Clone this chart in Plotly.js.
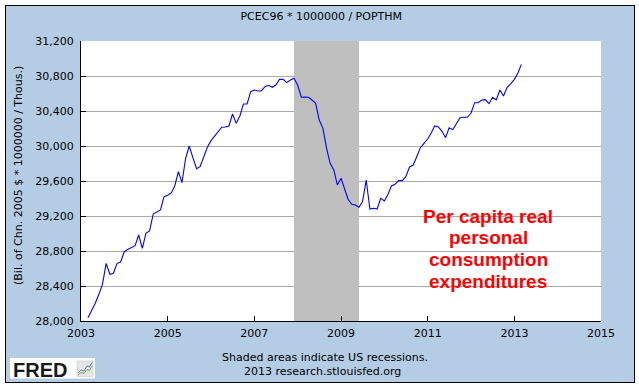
<!DOCTYPE html>
<html>
<head>
<meta charset="utf-8">
<script src="https://cdn.plot.ly/plotly-3.0.1.min.js"></script>
<style>
  html, body { margin: 0; padding: 0; background: #ffffff; }
  #frame { position: absolute; left: 5px; top: 5px; width: 628px; height: 376px; border: 1px solid #000; }
  #chart { width: 628px; height: 376px; }
</style>
</head>
<body>
<div id="frame"><div id="chart"></div></div>
<script>
// Monthly series, first observation March 2003
var startYear = 2003;
var startMonth = 3;
var values = [
  28038, 28118, 28202, 28305, 28419, 28659, 28534, 28545, 28659, 28674,
  28792, 28819, 28842, 28861, 28983, 28831, 29002, 29029, 29223, 29249,
  29269, 29421, 29437, 29467, 29543, 29707, 29581, 29860, 30000, 29867,
  29741, 29764, 29886, 29985, 30061, 30114, 30168, 30214, 30217, 30229,
  30366, 30259, 30343, 30480, 30480, 30621, 30640, 30629, 30629, 30678,
  30694, 30671, 30697, 30762, 30762, 30724, 30754, 30774, 30697, 30557,
  30560, 30557, 30526, 30488, 30297, 30202, 29973, 29802, 29726, 29554,
  29631, 29505, 29391, 29334, 29326, 29300, 29364, 29611, 29280, 29288,
  29280, 29402, 29372, 29448, 29543, 29562, 29604, 29604, 29649, 29760,
  29783, 29878, 29981, 30031, 30080, 30152, 30229, 30217, 30171, 30095,
  30209, 30187, 30263, 30324, 30328, 30328, 30374, 30495, 30495, 30525,
  30530, 30484, 30557, 30526, 30640, 30572, 30671, 30709, 30762, 30838,
  30933
];
var recessionStart = '2007-12-01';
var recessionEnd = '2009-06-01';
var xRange = ['2003-01-01', '2015-01-01'];
var yRange = [28000, 31200];
var yTicks = [28000, 28400, 28800, 29200, 29600, 30000, 30400, 30800, 31200];
var noteLines = ['Per capita real', 'personal', 'consumption', 'expenditures'];

var dates = [];
for (var i = 0; i < values.length; i++) {
  var mIdx = startMonth - 1 + i;
  var yr = startYear + Math.floor(mIdx / 12);
  var mo = (mIdx % 12) + 1;
  dates.push(yr + '-' + (mo < 10 ? '0' : '') + mo + '-01');
}

var fontFam = 'DejaVu Sans, Verdana, sans-serif';

// helpers converting page pixel positions of decorations to paper fractions
var PL = 81, PT = 41, PW = 520, PH = 280;
function px(x) { return (x - PL) / PW; }
function py(y) { return (PT + PH - y) / PH; }
function pathFrom(pts) {
  return pts.map(function (p, k) { return (k ? 'L' : 'M') + px(p[0]) + ',' + py(p[1]); }).join(' ');
}

var recession = {
  x: [recessionStart, recessionStart, recessionEnd, recessionEnd],
  y: [yRange[0], yRange[1], yRange[1], yRange[0]],
  mode: 'lines', fill: 'toself', fillcolor: '#bfbfbf',
  line: {width: 0, color: 'rgba(0,0,0,0)'}, hoverinfo: 'skip', showlegend: false
};
var series = {
  x: dates, y: values, mode: 'lines',
  line: {color: '#0000ff', width: 1.1}, showlegend: false
};

var annotations = [
  {text: '(Bil. of Chn. 2005 $ * 1000000 / Thous.)', textangle: -90, xref: 'paper', yref: 'paper',
   x: px(18), y: py(176), xanchor: 'center', yanchor: 'middle', showarrow: false,
   font: {family: fontFam, size: 11, color: '#000'}},
  {text: 'Shaded areas indicate US recessions.', xref: 'paper', yref: 'paper',
   x: px(325), y: py(357), xanchor: 'center', yanchor: 'middle', showarrow: false,
   font: {family: fontFam, size: 11, color: '#000'}},
  {text: '2013 research.stlouisfed.org', xref: 'paper', yref: 'paper',
   x: px(322), y: py(371), xanchor: 'center', yanchor: 'middle', showarrow: false,
   font: {family: fontFam, size: 11, color: '#000'}},
  {text: '<b>FRED</b>', xref: 'paper', yref: 'paper',
   x: px(11), y: py(369.5), xanchor: 'left', yanchor: 'middle', showarrow: false,
   font: {family: 'Liberation Sans, Arial, sans-serif', size: 20, color: '#1a1a1a'}}
];
var noteY = [216, 238, 259.5, 281];
for (var j = 0; j < noteLines.length; j++) {
  annotations.push({text: '<b>' + noteLines[j] + '</b>', xref: 'paper', yref: 'paper',
    x: px(488), y: py(noteY[j]), xanchor: 'center', yanchor: 'middle', showarrow: false,
    font: {family: 'Liberation Sans, Arial, sans-serif', size: 19, color: '#ff0000'}});
}

var layout = {
  width: 628, height: 376,
  margin: {l: 75, r: 33, t: 35, b: 61, pad: 0},
  paper_bgcolor: '#b4cde4',
  plot_bgcolor: '#ffffff',
  font: {family: fontFam, size: 11, color: '#000'},
  title: {text: 'PCEC96 * 1000000 / POPTHM', font: {family: fontFam, size: 11, color: '#000'},
          x: 0.502, xref: 'container', xanchor: 'center', y: 1 - 10 / 376, yref: 'container', yanchor: 'middle'},
  xaxis: {
    type: 'date', range: xRange, dtick: 'M24', tick0: '2003-01-01', tickformat: '%Y',
    showgrid: false, zeroline: false, showline: true, linecolor: '#000', linewidth: 1,
    ticks: 'inside', ticklen: 5, tickcolor: '#000', ticklabelstandoff: 2,
    tickfont: {family: fontFam, size: 11, color: '#000'}, fixedrange: true
  },
  yaxis: {
    range: yRange, tickvals: yTicks, tickformat: ',d',
    showgrid: true, gridcolor: '#aaaaaa', gridwidth: 1, zeroline: false,
    showline: true, linecolor: '#000', linewidth: 1,
    ticks: 'inside', ticklen: 5, tickcolor: '#000', ticklabelstandoff: 4,
    tickfont: {family: fontFam, size: 11, color: '#000'}, fixedrange: true
  },
  shapes: [
    {type: 'rect', xref: 'paper', yref: 'paper', x0: px(10), x1: px(95), y0: py(378.5), y1: py(358),
     fillcolor: '#ffffff', line: {width: 0}, layer: 'above'},
    {type: 'rect', xref: 'paper', yref: 'paper', x0: px(77), x1: px(93), y0: py(376.5), y1: py(361),
     fillcolor: '#e6e6e6', line: {width: 0.6, color: '#c8c8c8'}, layer: 'above'},
    {type: 'path', xref: 'paper', yref: 'paper',
     path: pathFrom([[78, 375], [81, 372.5], [84, 373.5], [87, 369.5], [89.5, 370.5], [92, 366]]),
     line: {width: 1, color: '#7aa83a'}, layer: 'above'},
    {type: 'path', xref: 'paper', yref: 'paper',
     path: pathFrom([[78, 373], [81, 370], [84, 371], [87, 366], [89.5, 367], [92, 362.5]]),
     line: {width: 1, color: '#5b7fc4'}, layer: 'above'}
  ],
  annotations: annotations
};

Plotly.newPlot('chart', [recession, series], layout, {displayModeBar: false, staticPlot: true});
</script>
</body>
</html>
